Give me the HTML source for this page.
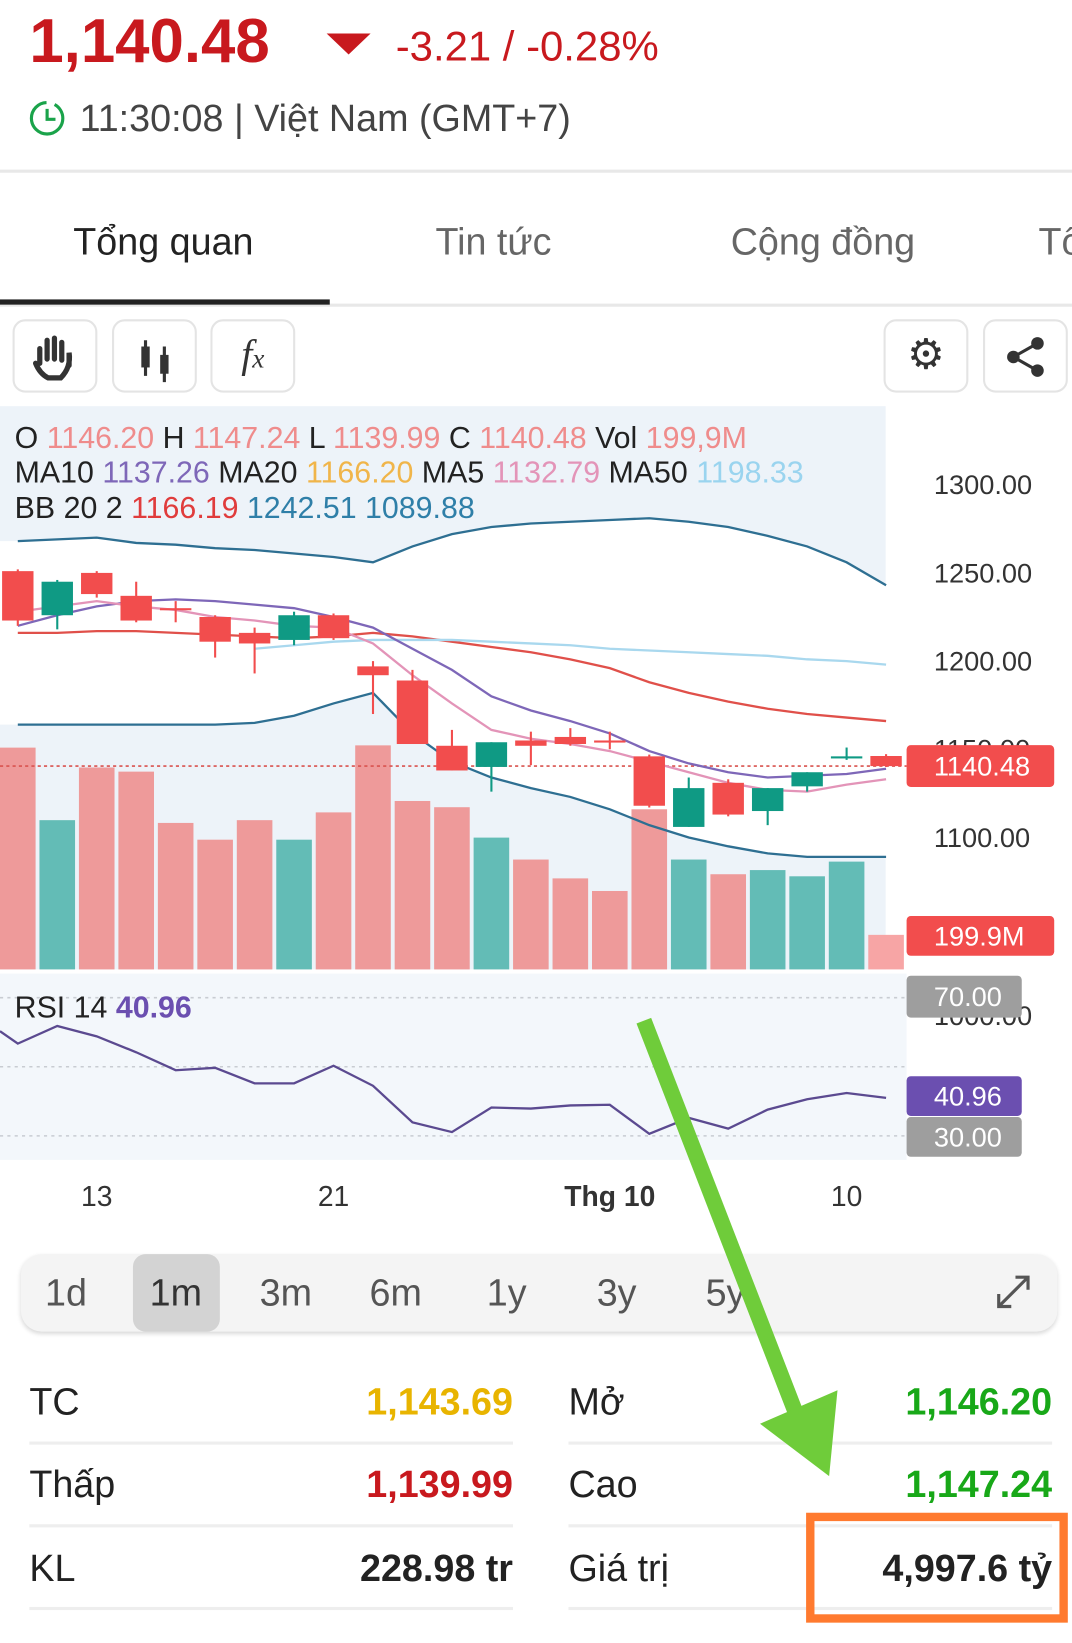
<!DOCTYPE html>
<html><head><meta charset="utf-8">
<style>
html,body{margin:0;padding:0;background:#fff;overflow:hidden;width:1072px;height:1642px}
#wrap{position:absolute;left:0;top:0;width:1024px;height:1569px;transform:scale(1.046875);transform-origin:0 0;font-family:"Liberation Sans","Noto Sans CJK JP",sans-serif}
.abs{position:absolute;white-space:nowrap}
.btn{position:absolute;top:305px;height:70px;border:2px solid #e4e4e4;border-radius:12px;background:#fff;box-sizing:border-box}
.row-l{position:absolute;font-size:36px;color:#222}
.val{position:absolute;font-size:36px;font-weight:bold;text-align:right}
.div{position:absolute;height:3px;background:#eee}
.rng{position:absolute;top:1214px;font-size:36px;color:#555;width:80px;text-align:center}
</style></head><body>
<div id="wrap">
 <div class="abs" style="left:28px;top:5px;font-size:59px;font-weight:bold;color:#c8191e">1,140.48</div>
 <div class="abs" style="left:312px;top:32px;width:0;height:0;border-left:21px solid transparent;border-right:21px solid transparent;border-top:20px solid #c8191e"></div>
 <div class="abs" style="left:378px;top:23px;font-size:40px;color:#c8191e">-3.21 / -0.28%</div>
 <svg class="abs" style="left:26px;top:94px" width="38" height="38" viewBox="0 0 38 38"><circle cx="19" cy="19" r="15" fill="none" stroke="#1aa34a" stroke-width="3" stroke-dasharray="70 8"/><path d="M19 10v10h8" fill="none" stroke="#1aa34a" stroke-width="3"/></svg>
 <div class="abs" style="left:76px;top:92px;font-size:36px;color:#444">11:30:08 | Việt Nam (GMT+7)</div>
 <div class="abs" style="left:0;top:162px;width:1024px;height:3px;background:#e8e8e8"></div>
 <div class="abs" style="left:70px;top:210px;font-size:36px;color:#222">Tổng quan</div>
 <div class="abs" style="left:416px;top:210px;font-size:36px;color:#666">Tin tức</div>
 <div class="abs" style="left:698px;top:210px;font-size:36px;color:#666">Cộng đồng</div>
 <div class="abs" style="left:992px;top:210px;font-size:36px;color:#666">Tổ</div>
 <div class="abs" style="left:0;top:290px;width:1024px;height:3px;background:#e8e8e8"></div>
 <div class="abs" style="left:0;top:286px;width:315px;height:5px;background:#222"></div>
 <div class="btn" style="left:12px;width:81px"><svg width="77" height="66"><path d="M24 40V26M31 36V18M38 36V16M45 37V20M52 42V30Q54 44 44 54H32Q24 50 20 40" fill="none" stroke="#333" stroke-width="5" stroke-linecap="round"/></svg></div>
 <div class="btn" style="left:107px;width:81px"><svg width="77" height="66"><path d="M30 18v34M48 24v34" stroke="#333" stroke-width="3"/><rect x="26" y="24" width="8" height="20" fill="#333"/><rect x="44" y="32" width="8" height="18" fill="#333"/></svg></div>
 <div class="btn" style="left:201px;width:81px;font-size:38px;font-style:italic;font-family:'Liberation Serif',serif;text-align:center;line-height:64px;color:#333">f<span style="font-size:26px">x</span></div>
 <div class="btn" style="left:844px;width:81px;font-size:40px;text-align:center;line-height:64px;color:#333">⚙</div>
 <div class="btn" style="left:939px;width:81px"><svg width="77" height="66"><circle cx="27" cy="34" r="6" fill="#333"/><circle cx="50" cy="21" r="6" fill="#333"/><circle cx="50" cy="47" r="6" fill="#333"/><path d="M27 34L50 21M27 34L50 47" stroke="#333" stroke-width="3"/></svg></div>

 <svg id="chart" class="abs" style="left:0;top:0" width="1024" height="1180"></svg>

 <div class="abs" style="left:20px;top:1198px;width:990px;height:74px;border-radius:20px;background:#f4f4f4;box-shadow:0 2px 4px rgba(0,0,0,.15)"></div>
 <div class="abs" style="left:127px;top:1198px;width:83px;height:74px;border-radius:12px;background:#d3d3d3"></div>
 <div class="rng" style="left:23px">1d</div>
 <div class="rng" style="left:128px;color:#333">1m</div>
 <div class="rng" style="left:233px">3m</div>
 <div class="rng" style="left:338px">6m</div>
 <div class="rng" style="left:444px">1y</div>
 <div class="rng" style="left:549px">3y</div>
 <div class="rng" style="left:653px">5y</div>
 <svg class="abs" style="left:948px;top:1214px" width="40" height="40"><path d="M6 34L34 6M22 6h12v12M6 22v12h12" fill="none" stroke="#555" stroke-width="3"/></svg>

 <div class="row-l" style="left:28px;top:1318px">TC</div>
 <div class="val" style="left:290px;width:200px;top:1318px;color:#e8b400">1,143.69</div>
 <div class="row-l" style="left:543px;top:1318px">Mở</div>
 <div class="val" style="left:805px;width:200px;top:1318px;color:#18a818">1,146.20</div>
 <div class="div" style="left:28px;width:462px;top:1377px"></div>
 <div class="div" style="left:543px;width:462px;top:1377px"></div>
 <div class="row-l" style="left:28px;top:1397px">Thấp</div>
 <div class="val" style="left:290px;width:200px;top:1397px;color:#c8191e">1,139.99</div>
 <div class="row-l" style="left:543px;top:1397px">Cao</div>
 <div class="val" style="left:805px;width:200px;top:1397px;color:#18a818">1,147.24</div>
 <div class="div" style="left:28px;width:462px;top:1456px"></div>
 <div class="div" style="left:543px;width:462px;top:1456px"></div>
 <div class="row-l" style="left:28px;top:1477px">KL</div>
 <div class="val" style="left:240px;width:250px;top:1477px;color:#222">228.98 tr</div>
 <div class="row-l" style="left:543px;top:1477px">Giá trị</div>
 <div class="val" style="left:755px;width:250px;top:1477px;color:#222">4,997.6 tỷ</div>
 <div class="div" style="left:28px;width:462px;top:1535px"></div>
 <div class="div" style="left:543px;width:462px;top:1535px"></div>

 <div class="abs" style="left:770px;top:1445px;width:250px;height:105px;border:8px solid #ff7a2f;box-sizing:border-box"></div>
 <svg class="abs" style="left:0;top:0" width="1024" height="1569"><path d="M615 975L768 1370" stroke="#6fcc3a" stroke-width="15"/><polygon points="726,1360 800,1328 792,1410" fill="#6fcc3a"/></svg>
</div>
<script>
const categories=["d1","d2","d3","d4","d5","d6","d7","d8","d9","d10","d11","d12","d13","d14","d15","d16","d17","d18","d19","d20","d21","d22","d23"];
const openVals=[1251,1226,1250,1237,1230,1225,1216,1212,1226,1197,1189,1152,1140,1155,1157,1155,1146,1106,1131,1115,1129,1145,1146.2];
const highVals=[1252,1246,1251,1245,1234,1226,1219,1228,1227,1200,1195,1161,1154,1160,1162,1160,1147,1134,1133,1128,1137,1151,1147.24];
const lowVals=[1220,1218,1236,1222,1222,1202,1193,1209,1212,1170,1153,1138,1126,1141,1152,1150,1117,1106,1112,1107,1126,1144,1139.99];
const closeVals=[1223,1245,1238,1223,1229,1211,1210,1226,1213,1192,1153,1138,1154,1152,1153,1154,1118,1128,1113,1128,1137,1146,1140.48];
const volumeVals=[1284,864,1169,1145,848,751,864,751,909,1297,975,939,763,636,527,454,927,636,551,575,539,624,200];
const bbUpper=[1268,1269,1270,1267,1266,1264,1263,1261,1259,1256,1265,1272,1276,1278,1279,1280,1281,1279,1276,1271,1265,1256,1243];
const bbLower=[1164,1164,1164,1164,1164,1164,1165,1169,1176,1182,1159,1143,1134,1128,1123,1116,1107,1100,1095,1091,1089,1089,1089];
const bbMid=[1216,1216,1217,1217,1216,1215,1214,1213,1214,1216,1214,1211,1208,1205,1201,1196,1188,1182,1177,1173,1170,1168,1166];
const ma50=[null,null,null,null,null,null,1207,1209,1211,1212,1212,1212,1211,1210,1209,1207,1206,1205,1204,1203,1201,1200,1198];
const ma10=[1220,1226,1231,1234,1235,1234,1232,1230,1225,1219,1207,1195,1180,1172,1166,1159,1149,1142,1137,1134,1135,1136,1139];
const ma5=[1228,1231,1234,1231,1229,1225,1223,1220,1219,1210,1192,1176,1161,1156,1153,1149,1143,1137,1131,1127,1126,1130,1133];
const rsiVals=[56.7,61.8,58.8,54.2,49,49.7,45.2,45.2,50.3,44.5,33.9,31.1,38.2,37.9,38.8,39,30.6,35.2,32.1,37.6,40.6,42.4,41];
const priceTicks=[1300,1250,1200,1150,1100];
const xTickLabels=["13","21","Thg 10","10"];
const xTickIdx=[2,8,15,21];

const svg=document.getElementById('chart');
const NS='http://www.w3.org/2000/svg';
const xS=i=>17+37.7*i;
const yP=p=>463+(1300-p)*1.685;
const yV=v=>926-v*0.165;
const yR=r=>953+(70-r)*3.3;
function mk(tag,attrs){const e=document.createElementNS(NS,tag);for(const k in attrs)e.setAttribute(k,attrs[k]);svg.appendChild(e);return e;}
function txt(x,y,s,attrs){const e=mk('text',Object.assign({x:x,y:y,'font-family':'Liberation Sans, sans-serif'},attrs));e.textContent=s;return e;}
function pathOf(arr,fy){let d='';arr.forEach((v,i)=>{if(v==null)return;d+=(d?'L':'M')+xS(i)+' '+fy(v);});return d;}

let e;
e=mk('rect',{x:0,y:388,width:846,height:538,fill:'#edf3f9'});


let bandD=pathOf(bbUpper,yP);
for(let i=bbLower.length-1;i>=0;i--)bandD+='L'+xS(i)+' '+yP(bbLower[i]);
e=mk('path',{d:'M0 '+yP(bbUpper[0])+'L'+bandD.slice(1)+'L0 '+yP(bbLower[0])+'Z',fill:'#ffffff'});


e=mk('rect',{x:0,y:930,width:866,height:178,fill:'#f3f7fb'});



volumeVals.forEach((v,i)=>{
 const up=closeVals[i]>=openVals[i];
 const b=mk('rect',{x:xS(i)-17,y:yV(v),width:34,height:926-yV(v),fill:i===volumeVals.length-1?'#f7a5a5':(up?'#63bcb6':'#ee9a9a')});
 
 
});
e=mk('line',{x1:0,x2:866,y1:yP(1140.48),y2:yP(1140.48),stroke:'#d9534f','stroke-width':1.5,'stroke-dasharray':'3 3'});



const lines=[[bbUpper,'#2e6f92','bb-upper-line'],[bbLower,'#2e6f92','bb-lower-line'],[bbMid,'#e0504a','bb-middle-line'],[ma50,'#a9d8ee','ma50-line'],[ma10,'#7e67b8','ma10-line'],[ma5,'#e394b8','ma5-line']];
lines.forEach(([arr,c,n])=>{
 const l=mk('path',{d:pathOf(arr,yP),fill:'none',stroke:c,'stroke-width':2.2});
 
 
});
categories.forEach((c,i)=>{
 const up=closeVals[i]>=openVals[i];
 const col=up?'#0f9a84':'#f24d4d';
 const w=mk('line',{x1:xS(i),x2:xS(i),y1:yP(highVals[i]),y2:yP(lowVals[i]),stroke:col,'stroke-width':2});
 
 
 const top=yP(Math.max(openVals[i],closeVals[i]));
 const h=Math.max(2,Math.abs(yP(openVals[i])-yP(closeVals[i])));
 const b=mk('rect',{x:xS(i)-15,y:top,width:30,height:h,fill:col});
 
 
});
[70,50,30].forEach(r=>{
 const g=mk('line',{x1:0,x2:866,y1:yR(r),y2:yR(r),stroke:'#c8ccd2','stroke-width':1.5,'stroke-dasharray':'3 4'});
 
 
});
e=mk('path',{d:'M0 985'+pathOf(rsiVals,yR).replace('M','L'),fill:'none',stroke:'#5b4a90','stroke-width':2.2});



priceTicks.forEach(p=>{
 const t=txt(892,yP(p)+9,p.toFixed(2),{'font-size':26,fill:'#333'});
 
 
});
e=txt(892,979,'1000.00',{'font-size':26,fill:'#333'});


function badge(y,h,w,fill,s,n){
 const r=mk('rect',{x:866,y:y,width:w,height:h,rx:4,fill:fill});
 
 
 const t=txt(892,y+h/2+9,s,{'font-size':26,fill:'#fff'});
 
 
}
badge(yP(1140.48)-20,40,141,'#f24d4d','1140.48','last-price-badge');
badge(875,38,141,'#f24d4d','199.9M','last-volume-badge');
badge(932,40,110,'#9e9e9e','70.00','rsi-70-badge');
badge(1028,38,110,'#6b4fb0','40.96','rsi-value-badge');
badge(1067,38,110,'#9e9e9e','30.00','rsi-30-badge');
xTickLabels.forEach((s,k)=>{
 const t=txt(xS(xTickIdx[k]),1152,s,{'font-size':27,fill:'#333','text-anchor':'middle','font-weight':s.length>3?'bold':'normal'});
 
 
});
function legend(y,parts,n){
 const t=mk('text',{x:14,y:y,'font-size':29,'font-family':'Liberation Sans, sans-serif'});
 
 
 parts.forEach(([s,c,b])=>{const sp=document.createElementNS(NS,'tspan');sp.setAttribute('fill',c);if(b)sp.setAttribute('font-weight','bold');sp.textContent=s;t.appendChild(sp);});
}
const K='#222',R='#ef8c8c';
legend(428,[['O ',K],['1146.20',R],[' H ',K],['1147.24',R],[' L ',K],['1139.99',R],[' C ',K],['1140.48',R],[' Vol ',K],['199,9M',R]],'ohlc-legend');
legend(461,[['MA10 ',K],['1137.26','#7e67b8'],[' MA20 ',K],['1166.20','#f0b54a'],[' MA5 ',K],['1132.79','#e394b8'],[' MA50 ',K],['1198.33','#9ad4ef']],'ma-legend');
legend(495,[['BB 20 2 ',K],['1166.19','#e03c3c'],[' 1242.51','#2f7fa8'],[' 1089.88','#2f7fa8']],'bb-legend');
legend(972,[['RSI 14 ',K],['40.96','#6b4fb0',true]],'rsi-legend');
</script>
</body></html>
